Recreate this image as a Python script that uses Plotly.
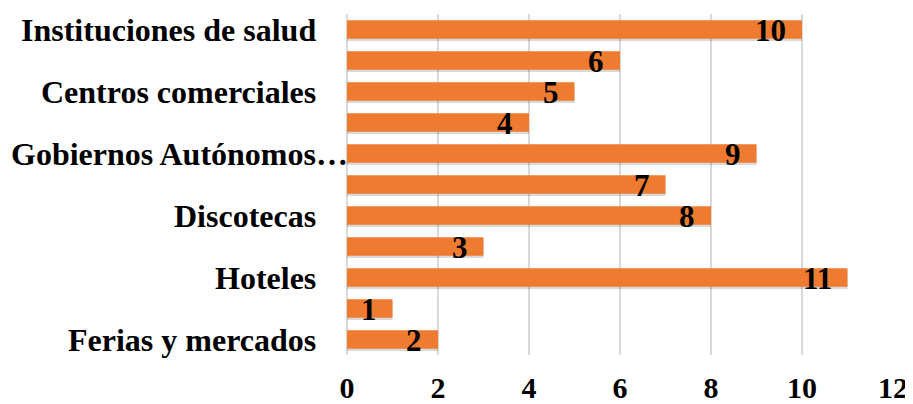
import plotly.graph_objects as go

# bottom to top
labels = ["Ferias y mercados", "", "Hoteles", "", "Discotecas", "",
          "Gobiernos Autónomos…", "", "Centros comerciales", "", "Instituciones de salud"]
values = [2, 1, 11, 3, 8, 7, 9, 4, 5, 6, 10]
xticks = [0, 2, 4, 6, 8, 10, 12]

pos = list(range(len(values)))
font = "Liberation Serif"

fig = go.Figure()
# soft shadow
fig.add_trace(go.Bar(x=values, y=[p - 0.07 for p in pos], orientation="h",
                     marker=dict(color="rgba(0,0,0,0.15)", line=dict(width=0)),
                     width=0.6, hoverinfo="skip", showlegend=False))
fig.add_trace(go.Bar(x=values, y=pos, orientation="h",
                     marker=dict(color="#EE7B30", line=dict(width=0)),
                     width=0.6, showlegend=False))

for v, p in zip(values, pos):
    fig.add_annotation(x=v, y=p, text=f"<b>{v}</b>", showarrow=False,
                       xanchor="right", yanchor="middle", xshift=-14, yshift=-1,
                       font=dict(family=font, size=31, color="black"))

for l, p in zip(labels, pos):
    if l:
        fig.add_annotation(x=0, y=p, xref="paper", yref="y", text=f"<b>{l}</b>",
                           showarrow=False, xanchor="right", yanchor="middle",
                           xshift=3 if l.endswith("…") else -29,
                           font=dict(family=font, size=32, color="black"))

# page body has an 8px margin, so the figure is sized to fit the window
fig.update_layout(
    width=905, height=396, barmode="overlay",
    margin=dict(l=339, r=20, t=6, b=49),
    plot_bgcolor="white", paper_bgcolor="white",
    font=dict(family=font, size=30, color="black"),
)
fig.update_xaxes(range=[0, 12], tickvals=xticks, ticktext=[f"<b>{t}</b>" for t in xticks],
                 showgrid=True, gridcolor="#d9d9d9", gridwidth=1.5,
                 zeroline=True, zerolinecolor="#d9d9d9", zerolinewidth=1.5,
                 showline=False, ticks="", tickfont=dict(size=30), automargin=False,
                 ticklabelstandoff=12)
fig.update_yaxes(range=[-0.5, 10.5], showticklabels=False,
                 showgrid=False, zeroline=False, ticks="", automargin=False)
fig.write_html("out.html")
